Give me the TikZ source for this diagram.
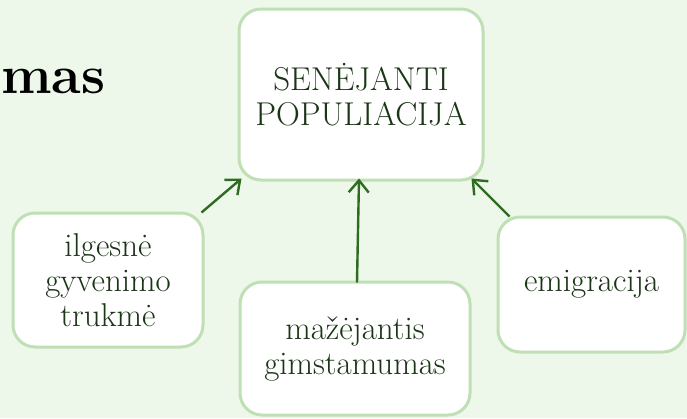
\documentclass[tikz,border=0pt]{standalone}
\usepackage{tikz}
\usetikzlibrary{arrows.meta,positioning}
\usepackage{xcolor}
\definecolor{PopBack}{HTML}{EEF8EA}
\definecolor{PopBorder}{HTML}{BFDFB5}
\definecolor{PopArrow}{HTML}{2F6B21}
\definecolor{PopText}{HTML}{1B3517}

\tikzset{
  causebox/.style={draw=PopBorder,line width=3pt,fill=white,rounded corners=22pt,
    align=center,text=PopText,font=\fontsize{33}{35}\selectfont,inner sep=0pt},
  causearrow/.style={draw=PopArrow,line width=2.4pt,-{Straight Barb[length=12pt,width=20pt]}}
}

\begin{document}
\begin{tikzpicture}[x=1pt,y=-1pt]
   \clip (0,0) rectangle (687,418);
   \fill[PopBack] (0,0) rectangle (687,418);

   \node[anchor=base west,inner sep=0pt,font=\fontsize{54}{60}\selectfont\bfseries] (title) at (1,93) {mas};

   \node[causebox,minimum width=244pt,minimum height=171pt] (sen) at (361,94.5) {SENĖJANTI\\POPULIACIJA};
   \node[causebox,minimum width=190pt,minimum height=134pt] (ilg) at (108,280) {ilgesnė\\gyvenimo\\trukmė};
   \node[causebox,minimum width=230pt,minimum height=133pt] (maz) at (355,348.5) {mažėjantis\\gimstamumas};
   \node[causebox,minimum width=187pt,minimum height=135pt] (emi) at (591.5,284.5) {emigracija};

   \draw[causearrow] ([xshift=-3pt,yshift=-1pt]ilg.north east) -- ([xshift=4pt,yshift=3pt]sen.south west);
   \draw[causearrow] ([xshift=2pt,yshift=-2pt]maz.north) -- ([xshift=-2pt,yshift=3pt]sen.south);
   \draw[causearrow] ([xshift=13pt,yshift=-1pt]emi.north west) -- ([xshift=-13pt,yshift=3pt]sen.south east);
\end{tikzpicture}
\end{document}
